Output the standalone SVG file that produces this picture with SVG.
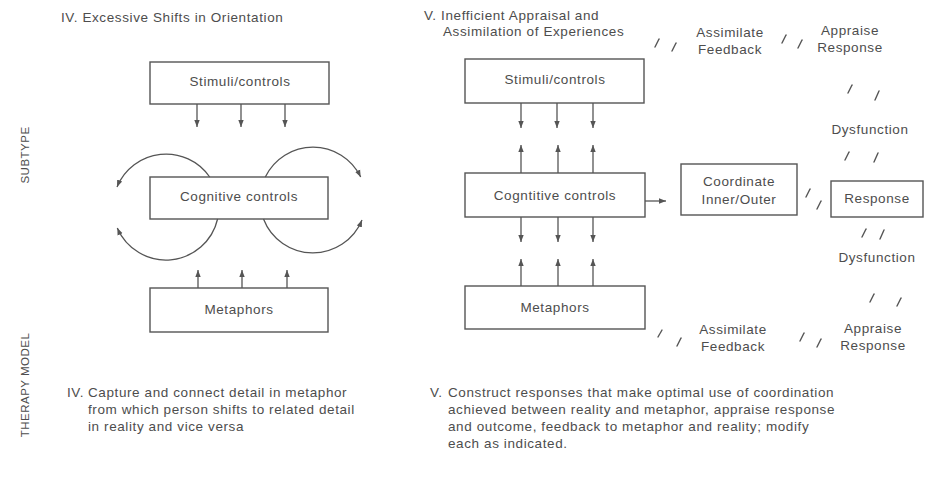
<svg xmlns="http://www.w3.org/2000/svg" width="927" height="478" viewBox="0 0 927 478">
<style>
text{font-family:"Liberation Sans",Arial,Helvetica,sans-serif;fill:#4d4d4d;font-size:13.5px;letter-spacing:0.6px}
.c{text-anchor:middle}
.side{font-size:11.5px;letter-spacing:0.5px}
rect{fill:#fff;stroke:#555;stroke-width:1.4}
.ln{stroke:#555;stroke-width:1.3;fill:none}
.sl{stroke:#555;stroke-width:1.4;fill:none;stroke-linecap:round}
</style>
<defs>
<marker id="ah" markerUnits="userSpaceOnUse" markerWidth="8" markerHeight="8" viewBox="0 0 8 8" refX="7" refY="4" orient="auto">
<path d="M0,1.3 L7,4 L0,6.7 Z" fill="#555"/>
</marker>
</defs>
<rect width="927" height="478" style="stroke:none;fill:#fff"/>

<g id="side-labels">
<text class="side c" transform="translate(29,155) rotate(-90)">SUBTYPE</text>
<text class="side c" transform="translate(29,385) rotate(-90)">THERAPY MODEL</text>
</g>

<g id="title-iv"><text x="61" y="22">IV. Excessive Shifts in Orientation</text></g>
<g id="title-v"><text x="424" y="20">V. Inefficient Appraisal and</text><text x="443" y="36">Assimilation of Experiences</text></g>

<g id="l-stimuli"><rect x="150" y="62" width="179" height="42"/><text class="c" x="240" y="86">Stimuli/controls</text></g>
<g id="l-cognitive"><rect x="150" y="177" width="178" height="42"/><text class="c" x="239" y="201">Cognitive controls</text></g>
<g id="l-metaphors"><rect x="150" y="288" width="178" height="44"/><text class="c" x="239" y="314">Metaphors</text></g>

<g id="r-stimuli"><rect x="465" y="59" width="179" height="44"/><text class="c" x="555" y="84">Stimuli/controls</text></g>
<g id="r-cognitive"><rect x="465" y="173" width="180" height="44"/><text class="c" x="555" y="200">Cogntitive controls</text></g>
<g id="r-metaphors"><rect x="465" y="286" width="180" height="43"/><text class="c" x="555" y="312">Metaphors</text></g>
<g id="coordinate"><rect x="681" y="164" width="116" height="51"/><text class="c" x="739" y="186">Coordinate</text><text class="c" x="739" y="204">Inner/Outer</text></g>
<g id="response"><rect x="831" y="181" width="92" height="36"/><text class="c" x="877" y="203">Response</text></g>

<g id="labels">
<text class="c" x="730" y="37">Assimilate</text><text class="c" x="730" y="54">Feedback</text>
<text class="c" x="850" y="35">Appraise</text><text class="c" x="850" y="52">Response</text>
<text class="c" x="870" y="134">Dysfunction</text>
<text class="c" x="877" y="262">Dysfunction</text>
<text class="c" x="733" y="334">Assimilate</text><text class="c" x="733" y="351">Feedback</text>
<text class="c" x="873" y="333">Appraise</text><text class="c" x="873" y="350">Response</text>
</g>

<g id="connectors">
<line class="ln" x1="197" y1="104" x2="197" y2="127" marker-end="url(#ah)"/>
<line class="ln" x1="241" y1="104" x2="241" y2="127" marker-end="url(#ah)"/>
<line class="ln" x1="285" y1="104" x2="285" y2="127" marker-end="url(#ah)"/>
<line class="ln" x1="198" y1="288" x2="198" y2="270" marker-end="url(#ah)"/>
<line class="ln" x1="242" y1="288" x2="242" y2="270" marker-end="url(#ah)"/>
<line class="ln" x1="287" y1="288" x2="287" y2="270" marker-end="url(#ah)"/>
<path class="ln" d="M209.7,177 A53,53 0 0 0 117,187" marker-end="url(#ah)"/>
<path class="ln" d="M217.6,219 A53,53 0 0 1 117.3,228" marker-end="url(#ah)"/>
<path class="ln" d="M265.3,177 A53,53 0 0 1 360.7,177" marker-end="url(#ah)"/>
<path class="ln" d="M263.5,219 A53,53 0 0 0 362,220" marker-end="url(#ah)"/>

<line class="ln" x1="521" y1="103" x2="521" y2="128" marker-end="url(#ah)"/>
<line class="ln" x1="557" y1="103" x2="557" y2="128" marker-end="url(#ah)"/>
<line class="ln" x1="593" y1="103" x2="593" y2="128" marker-end="url(#ah)"/>
<line class="ln" x1="521" y1="173" x2="521" y2="145" marker-end="url(#ah)"/>
<line class="ln" x1="558" y1="173" x2="558" y2="145" marker-end="url(#ah)"/>
<line class="ln" x1="593" y1="173" x2="593" y2="145" marker-end="url(#ah)"/>
<line class="ln" x1="521" y1="217" x2="521" y2="242" marker-end="url(#ah)"/>
<line class="ln" x1="558" y1="217" x2="558" y2="242" marker-end="url(#ah)"/>
<line class="ln" x1="593" y1="217" x2="593" y2="242" marker-end="url(#ah)"/>
<line class="ln" x1="521" y1="286" x2="521" y2="259" marker-end="url(#ah)"/>
<line class="ln" x1="558" y1="286" x2="558" y2="259" marker-end="url(#ah)"/>
<line class="ln" x1="593" y1="286" x2="593" y2="259" marker-end="url(#ah)"/>
<line class="ln" x1="645" y1="201" x2="666" y2="201" marker-end="url(#ah)"/>

<line class="sl" x1="655" y1="47" x2="659" y2="39"/><line class="sl" x1="672" y1="51" x2="676" y2="43"/>
<line class="sl" x1="782" y1="43" x2="786" y2="35"/><line class="sl" x1="798" y1="48" x2="802" y2="40"/>
<line class="sl" x1="848" y1="93" x2="852" y2="85"/><line class="sl" x1="875" y1="100" x2="879" y2="91"/>
<line class="sl" x1="845" y1="160" x2="849" y2="152"/><line class="sl" x1="874" y1="162" x2="878" y2="153"/>
<line class="sl" x1="806" y1="197" x2="810" y2="189"/><line class="sl" x1="817" y1="209" x2="821" y2="201"/>
<line class="sl" x1="862" y1="237" x2="866" y2="229"/><line class="sl" x1="880" y1="239" x2="884" y2="230"/>
<line class="sl" x1="870" y1="302" x2="874" y2="294"/><line class="sl" x1="897" y1="306" x2="901" y2="298"/>
<line class="sl" x1="658" y1="337" x2="662" y2="330"/><line class="sl" x1="677" y1="346" x2="681" y2="338"/>
<line class="sl" x1="800" y1="341" x2="804" y2="333"/><line class="sl" x1="817" y1="347" x2="821" y2="339"/>
</g>

<g id="note-iv">
<text x="67" y="397">IV.</text>
<text x="88" y="397">Capture and connect detail in metaphor</text>
<text x="88" y="414">from which person shifts to related detail</text>
<text x="88" y="431">in reality and vice versa</text>
</g>
<g id="note-v">
<text x="430" y="397">V.</text>
<text x="448" y="397">Construct responses that make optimal use of coordination</text>
<text x="448" y="414">achieved between reality and metaphor, appraise response</text>
<text x="448" y="431">and outcome, feedback to metaphor and reality; modify</text>
<text x="448" y="448">each as indicated.</text>
</g>
</svg>
